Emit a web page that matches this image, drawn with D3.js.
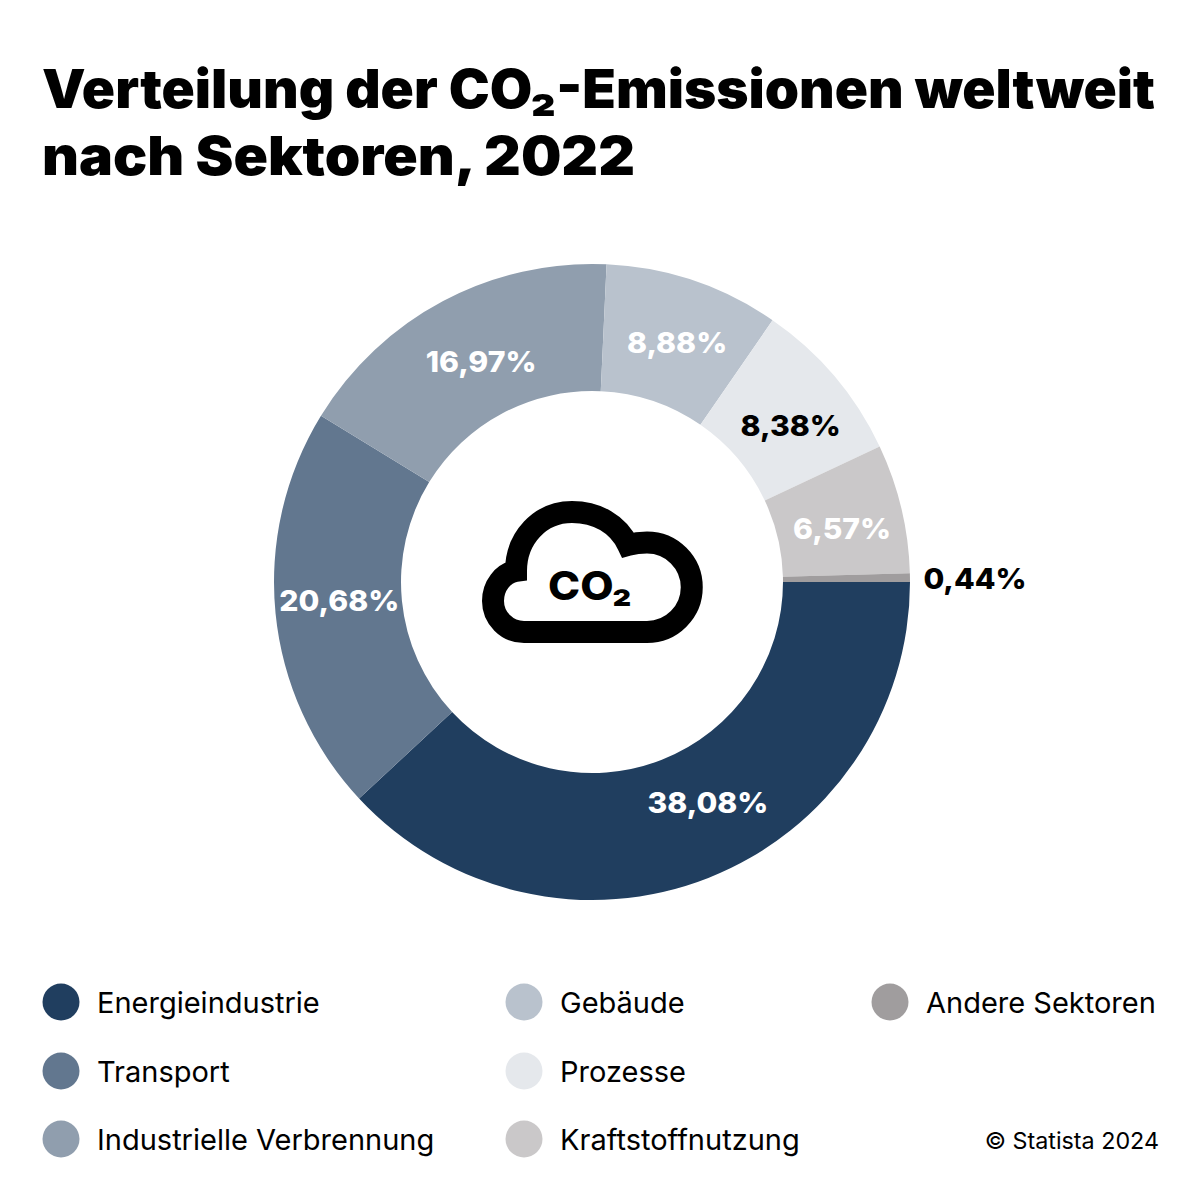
<!DOCTYPE html>
<html lang="de">
<head>
<meta charset="utf-8">
<title>Verteilung der CO₂-Emissionen weltweit</title>
<script src="https://cdn.jsdelivr.net/npm/d3@7"></script>
<style>
  html, body { margin: 0; padding: 0; background: #fff; }
  svg { display: block; }
</style>
</head>
<body>
<div id="chart"></div>
<script>
// data
var titleLines = ["Verteilung der CO₂-Emissionen weltweit", "nach Sektoren, 2022"];
var sectors = ["Energieindustrie", "Transport", "Industrielle Verbrennung", "Gebäude", "Prozesse", "Kraftstoffnutzung", "Andere Sektoren"];
var shares = [38.08, 20.68, 16.97, 8.88, 8.38, 6.57, 0.44];
var colors = ["#203e5f", "#62778f", "#909eae", "#b9c2cd", "#e5e8ec", "#cac8c9", "#a09d9e"];
var labelColors = ["#fff", "#fff", "#fff", "#fff", "#000", "#fff", "#000"];
var credit = "© Statista 2024";

var width = 1200, height = 1200;
var cx = 592, cy = 582, outer = 318, inner = 191;
var titleWidths = [1113, 593];

var svg = d3.select("#chart").append("svg")
    .attr("width", width)
    .attr("height", height);

// title
svg.selectAll("text.title")
    .data(titleLines)
    .enter().append("text")
    .attr("class", "title")
    .attr("x", 42)
    .attr("y", function(d, i) { return 108 + i * 67; })
    .attr("font-family", "Inter")
    .attr("font-weight", 900)
    .attr("font-size", 54)
    .attr("fill", "#000")
    .attr("textLength", function(d, i) { return titleWidths[i]; })
    .attr("lengthAdjust", "spacingAndGlyphs")
    .text(function(d) { return d; });

// donut, first slice starts at 3 o'clock
var pie = d3.pie().sort(null).startAngle(Math.PI / 2).endAngle(Math.PI * 2.5);
var arc = d3.arc().innerRadius(inner).outerRadius(outer);
var labelArc = d3.arc().innerRadius(254).outerRadius(254);
var outsideArc = d3.arc().innerRadius(383).outerRadius(383);
var slices = pie(shares);

var g = svg.append("g").attr("transform", "translate(" + cx + "," + cy + ")");

g.selectAll("path")
    .data(slices)
    .enter().append("path")
    .attr("d", arc)
    .attr("fill", function(d, i) { return colors[i]; });

// labels were moved by hand in the original
var nudge = [[23, -16], [0, -7], [8, 4], [4, 1], [5, 8], [3, 5], [0, 2]];

// the original face is an extended one, so Inter gets stretched a bit
g.selectAll("text")
    .data(slices)
    .enter().append("text")
    .attr("transform", function(d, i) {
        var p = (i == 6 ? outsideArc : labelArc).centroid(d);
        return "translate(" + (p[0] + nudge[i][0]) + "," + (p[1] + nudge[i][1]) + ") scale(1.04,1)";
    })
    .attr("text-anchor", "middle")
    .attr("dy", "0.36em")
    .attr("font-family", "Inter")
    .attr("font-weight", 800)
    .attr("font-size", 29)
    .attr("fill", function(d, i) { return labelColors[i]; })
    .text(function(d) { return d.data.toFixed(2).replace(".", ",") + "%"; });

// cloud icon
svg.append("path")
    .attr("d", "M524 632H647A44.75 44.75 0 0 0 647 542.5Q637 542.5 628 545C618 524 597 512 572 512C540 512 516 538 516 571C503 573 493 586 493 601C493 618 507 632 524 632Z")
    .attr("fill", "none")
    .attr("stroke", "#000")
    .attr("stroke-width", 22);

svg.append("text")
    .attr("transform", "translate(590,600) scale(1.08,1)")
    .attr("text-anchor", "middle")
    .attr("font-family", "Inter")
    .attr("font-weight", 800)
    .attr("font-size", 40)
    .text("CO₂");

// legend
var legendX = d3.scaleOrdinal().domain([0, 1, 2]).range([61, 524, 890]);
var legendY = d3.scaleOrdinal().domain([0, 1, 2]).range([1002, 1071, 1139]);

var legend = svg.selectAll("g.legend")
    .data(sectors)
    .enter().append("g")
    .attr("class", "legend")
    .attr("transform", function(d, i) {
        return "translate(" + legendX(Math.floor(i / 3)) + "," + legendY(i % 3) + ")";
    });

legend.append("circle")
    .attr("r", 18.5)
    .attr("fill", function(d, i) { return colors[i]; });

legend.append("text")
    .attr("x", 36)
    .attr("y", 1)
    .attr("dy", "0.36em")
    .attr("font-family", "Inter")
    .attr("font-size", 29)
    .attr("fill", "#000")
    .text(function(d) { return d; });

svg.append("text")
    .attr("x", 1159)
    .attr("y", 1149)
    .attr("text-anchor", "end")
    .attr("font-family", "Inter")
    .attr("font-size", 23.3)
    .attr("fill", "#000")
    .text(credit);
</script>
</body>
</html>
